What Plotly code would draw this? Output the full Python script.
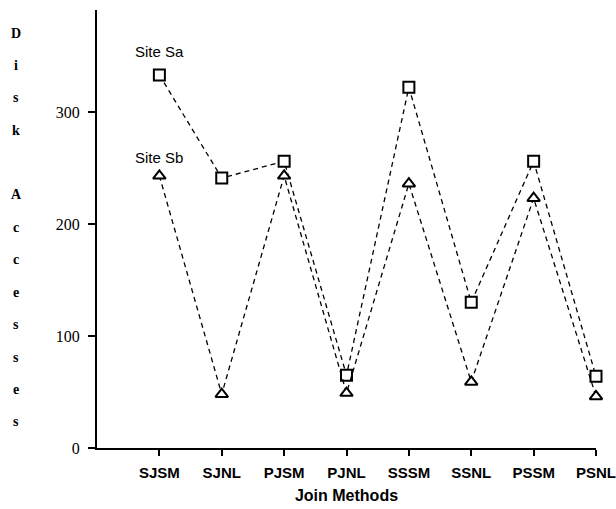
import plotly.graph_objects as go

methods = ["SJSM", "SJNL", "PJSM", "PJNL", "SSSM", "SSNL", "PSSM", "PSNL"]
site_sa = [333, 241, 256, 65, 322, 130, 256, 64]
site_sb = [243, 48, 243, 49, 236, 59, 223, 46]
y_ticks = [0, 100, 200, 300]
y_title_letters = list("Disk") + [""] + list("Accesses")

fig = go.Figure()
dash = "5px,4px"
fig.add_trace(go.Scatter(
    x=methods, y=site_sa, mode="lines+markers", name="Site Sa",
    line=dict(color="black", width=1.3, dash=dash),
    marker=dict(symbol="square", size=11, color="white", line=dict(color="black", width=2)),
    cliponaxis=False,
))
fig.add_trace(go.Scatter(
    x=methods, y=site_sb, mode="lines+markers", name="Site Sb",
    line=dict(color="black", width=1.3, dash=dash),
    marker=dict(symbol="triangle-up", size=11, color="white", line=dict(color="black", width=2)),
    cliponaxis=False,
))

annotations = [
    dict(x=methods[0], y=site_sa[0], xref="x", yref="y", text="Site Sa", showarrow=False,
         yshift=23, font=dict(family="Liberation Sans", size=15, color="black")),
    dict(x=methods[0], y=site_sb[0], xref="x", yref="y", text="Site Sb", showarrow=False,
         yshift=18, font=dict(family="Liberation Sans", size=15, color="black")),
]
# vertical stacked y-axis title letters
top_px, step_px, plot_top, plot_h = 33, 32.4, 10, 438
for i, ch in enumerate(y_title_letters):
    if not ch:
        continue
    py = top_px + i * step_px
    annotations.append(dict(
        x=-0.162, y=(plot_top + plot_h - py) / plot_h, xref="paper", yref="paper",
        text="<b>%s</b>" % ch, showarrow=False, xanchor="center", yanchor="middle",
        font=dict(family="Liberation Serif", size=14, color="black")))

fig.update_layout(
    width=616, height=509,
    margin=dict(l=97, r=20, t=10, b=61, autoexpand=False),
    paper_bgcolor="white", plot_bgcolor="white",
    showlegend=False,
    annotations=annotations,
    xaxis=dict(
        type="category", range=[-1, 7], showgrid=False, zeroline=False,
        showline=True, linecolor="black", linewidth=2,
        ticks="outside", ticklen=6, tickwidth=1.5, tickcolor="black",
        tickfont=dict(family="Liberation Sans", size=15, color="black"),
        ticklabelstandoff=4, automargin=False,
        title=dict(text="<b>Join Methods</b>", standoff=10,
                   font=dict(family="Liberation Sans", size=16, color="black")),
    ),
    yaxis=dict(
        range=[0, 391], tickvals=y_ticks, showgrid=False, zeroline=False,
        showline=True, linecolor="black", linewidth=2,
        ticks="outside", ticklen=7, tickwidth=1.5, tickcolor="black",
        tickfont=dict(family="Liberation Serif", size=16, color="black"),
        ticklabelstandoff=5, automargin=False,
    ),
)
fig.update_xaxes(tickprefix="<b>", ticksuffix="</b>")
fig.update_yaxes(tickprefix="<b>", ticksuffix="</b>")
fig.write_html("out.html")
